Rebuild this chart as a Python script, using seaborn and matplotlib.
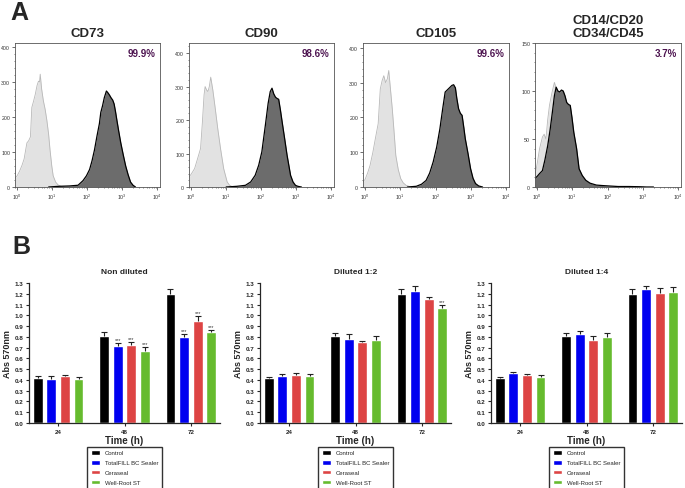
"""
Panel A: flow cytometry histograms (isotype vs marker).
Panel B: MTT viability (Abs 570nm) for three sealer dilutions.

Output: out.png
"""
import numpy as np
import pandas as pd
import matplotlib
matplotlib.use("Agg")
import matplotlib.pyplot as plt
from matplotlib.ticker import LogLocator, NullFormatter, MultipleLocator
import seaborn as sns

# ── panel A data (log10 fluorescence, event count) ───────────────────────────

CD73_ISO_X = [-0.06, 0.0, 0.07, 0.14, 0.2, 0.28, 0.33, 0.38, 0.42, 0.47, 0.52, 0.57, 0.61,
              0.64, 0.66, 0.7, 0.75, 0.8, 0.85, 0.9, 0.94, 0.99, 1.03, 1.1, 1.17, 1.25, 1.35]
CD73_ISO_Y = [25, 32, 45, 62, 80, 126, 132, 143, 227, 245, 265, 290, 302,
              300, 322, 280, 246, 222, 190, 150, 106, 60, 32, 14, 6, 2, 0]
CD73_POS_X = [0.9, 1.2, 1.5, 1.74, 1.88, 1.98, 2.07, 2.14, 2.21, 2.28, 2.35, 2.39, 2.44, 2.49,
              2.55, 2.6, 2.64, 2.68, 2.73, 2.77, 2.81, 2.85, 2.9, 2.96, 3.03, 3.1, 3.17, 3.24,
              3.31, 3.38]
CD73_POS_Y = [0, 2, 3, 5, 18, 32, 50, 75, 106, 145, 181, 213, 232, 255,
              274, 268, 262, 255, 248, 237, 215, 190, 160, 126, 92, 60, 35, 14, 5, 0]

CD90_ISO_X = [-0.06, 0.0, 0.1, 0.2, 0.27, 0.32, 0.37, 0.4, 0.44, 0.48, 0.52, 0.56, 0.62,
              0.69, 0.76, 0.84, 0.93, 1.03, 1.1, 1.2]
CD90_ISO_Y = [30, 38, 55, 90, 115, 190, 275, 300, 290, 285, 300, 328, 290,
              234, 175, 115, 55, 15, 5, 0]
CD90_POS_X = [1.0, 1.3, 1.55, 1.7, 1.83, 1.93, 2.02, 2.12, 2.2, 2.26, 2.31, 2.36, 2.41, 2.46,
              2.5, 2.55, 2.6, 2.67, 2.74, 2.84, 2.91, 2.98, 3.05, 3.15]
CD90_POS_Y = [0, 2, 5, 15, 35, 65, 105, 184, 250, 285, 295, 278, 268, 264,
              262, 230, 194, 145, 95, 35, 15, 5, 2, 0]

CD105_ISO_X = [-0.06, 0.0, 0.07, 0.14, 0.22, 0.29, 0.37, 0.43, 0.48, 0.53, 0.58, 0.63, 0.67,
               0.72, 0.77, 0.82, 0.87, 0.94, 1.01, 1.08, 1.16, 1.3]
CD105_ISO_Y = [15, 22, 40, 62, 100, 139, 182, 282, 305, 320, 300, 311, 335,
               280, 225, 160, 91, 50, 24, 12, 5, 0]
CD105_POS_X = [1.2, 1.45, 1.6, 1.73, 1.83, 1.93, 2.03, 2.12, 2.2, 2.27, 2.34, 2.41, 2.46, 2.51,
               2.56, 2.6, 2.65, 2.7, 2.75, 2.8, 2.84, 2.92, 2.99, 3.06, 3.13, 3.22, 3.33]
CD105_POS_Y = [0, 2, 8, 19, 40, 72, 115, 167, 225, 273, 280, 287, 292, 294,
               285, 255, 225, 212, 206, 170, 139, 95, 53, 25, 10, 3, 0]

NEG_ISO_X = [-0.06, 0.0, 0.07, 0.15, 0.2, 0.25, 0.3, 0.35, 0.42, 0.49, 0.56, 0.64, 0.69,
             0.74, 0.81, 0.89, 0.96, 1.04, 1.13, 1.23, 1.4]
NEG_ISO_Y = [12, 24, 40, 52, 55, 50, 70, 85, 98, 109, 100, 92, 75,
             61, 40, 23, 14, 9, 5, 2, 0]
NEG_POS_X = [-0.06, 0.0, 0.07, 0.15, 0.22, 0.3, 0.37, 0.44, 0.49, 0.54, 0.59, 0.64, 0.69,
             0.74, 0.79, 0.84, 0.89, 0.94, 0.99, 1.04, 1.12, 1.19, 1.28, 1.38, 1.5, 1.68,
             1.85, 2.07, 2.3, 2.6, 2.9, 3.1, 3.3]
NEG_POS_Y = [9, 11, 14, 17, 28, 43, 60, 80, 95, 104, 100, 99, 101,
             100, 95, 88, 86, 85, 72, 57, 40, 19, 12, 7, 4, 2,
             1.5, 1, 0.5, 0.5, 0.3, 0, 0]

MARKERS = ["CD73", "CD90", "CD105", "CD14/CD20\nCD34/CD45"]
PERCENTS = ["99.9%", "98.6%", "99.6%", "3.7%"]
HIST_YMAX = [411, 430, 414, 150]
HIST_YSTEP = [100, 100, 100, 50]

# ── panel B data (Abs 570nm, mean and SD) ────────────────────────────────────

TIMES = ["24", "48", "72"]
GROUPS = ["Control", "TotalFILL BC Sealer", "Ceraseal", "Well-Root ST"]
DILUTIONS = ["Non diluted", "Diluted 1:2", "Diluted 1:4"]

# rows = group, columns = time
MEAN_ND = [[0.42, 0.81, 1.20], [0.41, 0.715, 0.795], [0.435, 0.72, 0.95], [0.405, 0.67, 0.845]]
SD_ND = [[0.015, 0.035, 0.04], [0.025, 0.027, 0.03], [0.01, 0.03, 0.04], [0.02, 0.035, 0.02]]
SIG_ND = [[0, 0, 0], [0, 1, 1], [0, 1, 1], [0, 1, 1]]

MEAN_D2 = [[0.42, 0.81, 1.20], [0.435, 0.78, 1.23], [0.445, 0.755, 1.15], [0.435, 0.775, 1.07]]
SD_D2 = [[0.01, 0.03, 0.04], [0.02, 0.05, 0.04], [0.02, 0.01, 0.02], [0.02, 0.03, 0.03]]
SIG_D2 = [[0, 0, 0], [0, 0, 0], [0, 0, 0], [0, 0, 1]]

MEAN_D4 = [[0.42, 0.81, 1.20], [0.46, 0.83, 1.245], [0.45, 0.775, 1.21], [0.43, 0.795, 1.22]]
SD_D4 = [[0.01, 0.03, 0.04], [0.015, 0.02, 0.03], [0.008, 0.03, 0.045], [0.015, 0.04, 0.04]]
SIG_D4 = [[0, 0, 0], [0, 0, 0], [0, 0, 0], [0, 0, 0]]

GROUP_COLORS = ["#000000", "#0000F0", "#DD4444", "#66BB2E"]

sns.set_theme(style="ticks")
plt.rcParams["font.family"] = ["Liberation Sans", "DejaVu Sans"]

W, H = 685, 489


def fig_rect(x0, y0, x1, y1):
    """Pixel box (top-left origin) -> figure fraction rect."""
    return [x0 / W, 1 - y1 / H, (x1 - x0) / W, (y1 - y0) / H]


def plot_hist(ax, iso_x, iso_y, pos_x, pos_y, title, pct, ymax, ystep):
    ix = 10 ** np.array(iso_x)
    px = 10 ** np.array(pos_x)
    ax.fill_between(ix, iso_y, color="#e2e2e2", lw=0, zorder=1)
    ax.plot(ix, iso_y, color="#b8b8b8", lw=0.6, zorder=1.5)
    ax.fill_between(px, pos_y, color="#6c6c6c", lw=0, zorder=2)
    ax.plot(px, pos_y, color="black", lw=0.9, zorder=2.5)
    ax.set_xscale("log")
    ax.set_xlim(10 ** -0.06, 10 ** 4.08)
    ax.set_ylim(0, ymax)
    ax.xaxis.set_major_locator(LogLocator(base=10, numticks=6))
    ax.xaxis.set_minor_locator(LogLocator(base=10, subs=np.arange(2, 10), numticks=10))
    ax.xaxis.set_minor_formatter(NullFormatter())
    ax.yaxis.set_major_locator(MultipleLocator(ystep))
    ax.yaxis.set_minor_locator(MultipleLocator(ystep / 5))
    ax.tick_params(which="major", length=2, width=0.5, labelsize=3.8, pad=1.5, colors="#333")
    ax.tick_params(which="minor", length=1, width=0.4)
    for s in ax.spines.values():
        s.set_linewidth(0.6)
        s.set_color("#555")
    ax.set_title(title, fontsize=9.5, fontweight="bold", pad=5, linespacing=1.1)
    ax.text(0.97, 0.93, pct, transform=ax.transAxes, ha="right", va="center",
            fontsize=7, fontweight="bold", color="#4d1450")


def plot_bars(ax, title, mean, sd, sig):
    rows = []
    for g, name in enumerate(GROUPS):
        for t, time in enumerate(TIMES):
            rows.append({"time": time, "group": name, "abs": mean[g][t]})
    df = pd.DataFrame(rows)
    sns.barplot(data=df, x="time", y="abs", hue="group", hue_order=GROUPS, order=TIMES,
                palette=GROUP_COLORS, saturation=1, errorbar=None, width=0.82, gap=0.28,
                ax=ax, legend=True)

    for g, cont in enumerate(ax.containers):
        for t, bar in enumerate(cont):
            xc = bar.get_x() + bar.get_width() / 2
            top = mean[g][t] + sd[g][t]
            ax.vlines(xc, mean[g][t], top, color="#222", lw=0.8, zorder=3)
            ax.hlines(top, xc - bar.get_width() * 0.3, xc + bar.get_width() * 0.3,
                      color="#222", lw=0.8, zorder=3)
            if sig[g][t]:
                ax.text(xc, top + 0.008, "***", ha="center", va="bottom",
                        fontsize=4, color="#333")

    ax.set_xlim(-0.44, 2.44)
    ax.set_ylim(0, 1.3)
    ax.yaxis.set_major_locator(MultipleLocator(0.1))
    ax.yaxis.set_major_formatter(matplotlib.ticker.FormatStrFormatter("%.1f"))
    ax.tick_params(axis="both", length=2.5, width=0.8, labelsize=4.5, pad=1.5)
    for lab in ax.get_xticklabels() + ax.get_yticklabels():
        lab.set_fontweight("bold")
    sns.despine(ax=ax)
    for s in ("left", "bottom"):
        ax.spines[s].set_linewidth(0.9)
    ax.set_title(title, fontsize=6, fontweight="bold", pad=7)
    ax.set_xlabel("Time (h)", fontsize=7, fontweight="bold", labelpad=1)
    ax.set_ylabel("Abs 570nm", fontsize=6.5, fontweight="bold", labelpad=2)

    leg = ax.legend(loc="upper center", bbox_to_anchor=(0.5, -0.168), ncol=1,
                    fontsize=4.3, frameon=True, fancybox=False, handlelength=1.6,
                    handleheight=0.8, labelspacing=0.75, borderpad=0.6,
                    handletextpad=0.7, borderaxespad=0)
    leg.get_frame().set_edgecolor("black")
    leg.get_frame().set_linewidth(1.0)


def main():
    fig = plt.figure(figsize=(W / 100, H / 100), dpi=100)

    hist_boxes = [(15, 44, 160, 188), (189, 44, 334, 188),
                  (363, 44, 509, 188), (535, 44, 681, 188)]
    hist_data = [(CD73_ISO_X, CD73_ISO_Y, CD73_POS_X, CD73_POS_Y),
                 (CD90_ISO_X, CD90_ISO_Y, CD90_POS_X, CD90_POS_Y),
                 (CD105_ISO_X, CD105_ISO_Y, CD105_POS_X, CD105_POS_Y),
                 (NEG_ISO_X, NEG_ISO_Y, NEG_POS_X, NEG_POS_Y)]
    for i, box in enumerate(hist_boxes):
        ax = fig.add_axes(fig_rect(*box))
        plot_hist(ax, *hist_data[i], MARKERS[i], PERCENTS[i], HIST_YMAX[i], HIST_YSTEP[i])

    bar_boxes = [(29, 284, 220, 424), (260, 284, 451, 424), (491, 284, 682, 424)]
    bar_data = [(MEAN_ND, SD_ND, SIG_ND), (MEAN_D2, SD_D2, SIG_D2), (MEAN_D4, SD_D4, SIG_D4)]
    for i, box in enumerate(bar_boxes):
        ax = fig.add_axes(fig_rect(*box))
        plot_bars(ax, DILUTIONS[i], *bar_data[i])

    fig.text(19 / W, 1 - 13 / H, "A", fontsize=18, fontweight="bold", ha="center", va="center")
    fig.text(21 / W, 1 - 247 / H, "B", fontsize=18, fontweight="bold", ha="center", va="center")

    fig.savefig("out.png", dpi=100)
    plt.close(fig)


if __name__ == "__main__":
    main()
